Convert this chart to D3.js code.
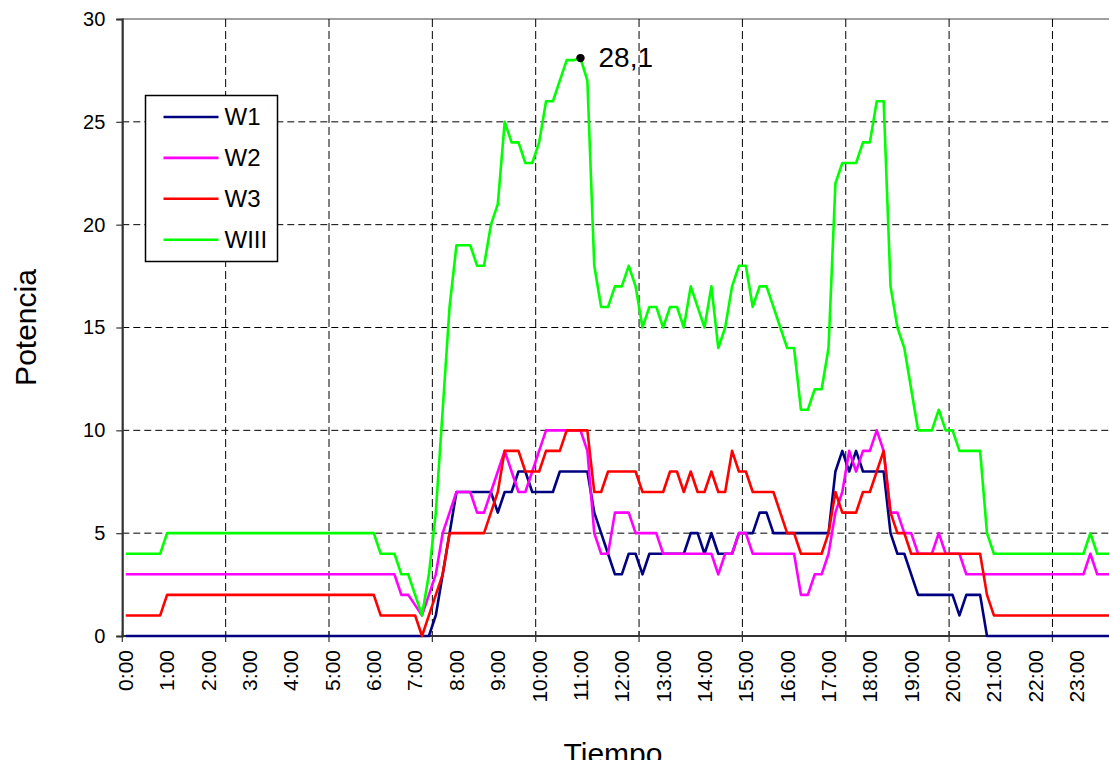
<!DOCTYPE html>
<html>
<head>
<meta charset="utf-8">
<script src="https://cdn.jsdelivr.net/npm/d3@7/dist/d3.min.js"></script>
<style>
  body { margin: 0; background: #fff; overflow: hidden; }
  svg { display: block; font-family: "Liberation Sans", Arial, sans-serif; }
</style>
</head>
<body>
<svg id="chart" width="1109" height="760"></svg>
<script>
// series, one value every 10 minutes (0:00 .. 23:50)
var seriesNames = ["W1", "W2", "W3", "WIII"];
var seriesColors = ["#000080", "#ff00ff", "#ff0000", "#00ff00"];

var hourLabels = ["0:00","1:00","2:00","3:00","4:00","5:00","6:00","7:00","8:00","9:00","10:00","11:00",
                  "12:00","13:00","14:00","15:00","16:00","17:00","18:00","19:00","20:00","21:00","22:00","23:00"];

var yTicks = [0, 5, 10, 15, 20, 25, 30];

var w1 = [0,0,0,0,0,0,0,0,0,0,0,0,0,0,0,0,0,0,0,0,0,0,0,0,0,0,0,0,0,0,0,0,0,0,0,0,0,0,0,0,0,0,0,0,0,
          1,3,5,7,7,7,7,7,7,6,7,7,8,8,7,7,7,7,8,8,8,8,8,
          6,5,4,3,3,4,4,3,4,4,4,4,4,4,5,5,4,5,4,4,4,5,5,
          5,6,6,5,5,5,5,5,5,5,5,5,8,9,8,9,8,8,8,8,
          5,4,4,3,2,2,2,2,2,2,1,2,2,2,
          0,0,0,0,0,0,0,0,0,0,0,0,0,0,0,0,0,0,0];

var w2 = [3,3,3,3,3,3,3,3,3,3,3,3,3,3,3,3,3,3,3,3,3,3,3,3,3,3,3,3,3,3,3,3,3,3,3,3,3,3,3,3,
          2,2,1.5,1,
          2,3,5,6,7,7,7,6,6,7,8,9,8,7,7,8,9,10,10,10,10,10,10,9,
          5,4,4,6,6,6,5,5,5,5,4,4,4,4,4,4,4,4,3,4,4,5,5,
          4,4,4,4,4,4,4,2,2,3,3,4,6,7,9,8,9,9,10,9,
          6,6,5,5,4,4,4,5,4,4,4,3,3,3,
          3,3,3,3,3,3,3,3,3,3,3,3,3,3,3,
          4,3,3,3];

var w3 = [1,1,1,1,1,1,
          2,2,2,2,2,2,2,2,2,2,2,2,2,2,2,2,2,2,2,2,2,2,2,2,2,2,2,2,2,2,2,
          1,1,1,1,1,1,0,
          1,2,3,5,5,5,5,5,5,6,7,9,9,9,8,8,8,9,9,9,10,10,10,10,
          7,7,8,8,8,8,8,7,7,7,7,8,8,7,8,7,7,8,7,7,9,8,8,
          7,7,7,7,6,5,5,4,4,4,4,5,7,6,6,6,7,7,8,9,
          6,5,5,4,4,4,4,4,4,4,4,4,4,4,
          2,1,1,1,1,1,1,1,1,1,1,1,1,1,1,1,1,1,1];

var wIII = [4,4,4,4,4,4,
            5,5,5,5,5,5,5,5,5,5,5,5,5,5,5,5,5,5,5,5,5,5,5,5,5,5,5,5,5,5,5,
            4,4,4,3,3,2,1,
            3,6,11,16,19,19,19,18,18,20,21,25,24,24,23,23,24,26,26,27,28,28,28.1,27,
            18,16,16,17,17,18,17,15,16,16,15,16,16,15,17,16,15,17,14,15,17,18,18,
            16,17,17,16,15,14,14,11,11,12,12,14,22,23,23,23,24,24,26,26,
            17,15,14,12,10,10,10,11,10,10,9,9,9,9,
            5,4,4,4,4,4,4,4,4,4,4,4,4,4,4,5,4,4,4];

var peakLabel = "28,1";

var categories = d3.range(w1.length).map(function (i) {
    var m = i * 10;
    return Math.floor(m / 60) + ":" + d3.format("02")(m % 60);
});

var allSeries = [w1, w2, w3, wIII];

var svg = d3.select("#chart");

var plotLeft = 122.3, catWidth = 6.89, plotTop = 19, plotBottom = 636;

var x = d3.scaleBand()
    .domain(categories)
    .range([plotLeft, plotLeft + catWidth * categories.length])
    .padding(0);

var y = d3.scaleLinear()
    .domain([0, 30])
    .range([plotBottom, plotTop]);

function cx(i) { return x(categories[i]) + x.bandwidth() / 2; }

// plot area frame (grey)
svg.append("rect")
    .attr("x", plotLeft).attr("y", y(30))
    .attr("width", x.range()[1] - plotLeft).attr("height", plotBottom - y(30))
    .attr("fill", "none").attr("stroke", "#808080").attr("stroke-width", 1.5);

// horizontal dashed grid
svg.append("g").selectAll("line")
    .data(yTicks.filter(function (d) { return d > 0 && d < 30; }))
    .enter().append("line")
    .attr("x1", plotLeft).attr("x2", x.range()[1])
    .attr("y1", function (d) { return y(d); }).attr("y2", function (d) { return y(d); })
    .attr("stroke", "#000").attr("stroke-width", 1).attr("stroke-dasharray", "7,4");

// vertical dashed grid, every 15 categories
var vGrid = d3.range(15, categories.length, 15);
svg.append("g").selectAll("line")
    .data(vGrid)
    .enter().append("line")
    .attr("x1", function (d) { return x(categories[d]); })
    .attr("x2", function (d) { return x(categories[d]); })
    .attr("y1", y(30)).attr("y2", plotBottom)
    .attr("stroke", "#000").attr("stroke-width", 1).attr("stroke-dasharray", "8,4");

// y axis
var yAxis = svg.append("g")
    .attr("transform", "translate(" + plotLeft + ",0)")
    .call(d3.axisLeft(y).tickValues(yTicks).tickSize(6).tickPadding(11).tickFormat(d3.format("d")));
yAxis.select(".domain").attr("stroke", "#333").attr("stroke-width", 2);
yAxis.selectAll(".tick line").attr("stroke", "#333").attr("stroke-width", 1.2);
yAxis.selectAll("text").attr("font-size", 20).attr("font-family", "Liberation Sans, Arial, sans-serif").attr("fill", "#000");

// x axis line and cross ticks
svg.append("line")
    .attr("x1", plotLeft).attr("x2", x.range()[1])
    .attr("y1", plotBottom).attr("y2", plotBottom)
    .attr("stroke", "#333").attr("stroke-width", 2);

svg.append("g").selectAll("line")
    .data([0].concat(vGrid))
    .enter().append("line")
    .attr("x1", function (d) { return x(categories[d]); })
    .attr("x2", function (d) { return x(categories[d]); })
    .attr("y1", plotBottom - 5).attr("y2", plotBottom + 6)
    .attr("stroke", "#333").attr("stroke-width", 1.2);

// hour labels, rotated
svg.append("g").selectAll("text")
    .data(hourLabels)
    .enter().append("text")
    .attr("transform", function (d, k) {
        return "translate(" + cx(k * 6) + ",650) rotate(-90)";
    })
    .attr("dy", "0.35em")
    .attr("text-anchor", "end")
    .attr("font-size", 21)
    .text(function (d) { return d; });

// series lines
var line = d3.line()
    .x(function (d, i) { return cx(i); })
    .y(function (d) { return y(d); });

svg.append("g").selectAll("path")
    .data(allSeries)
    .enter().append("path")
    .attr("d", line)
    .attr("fill", "none")
    .attr("stroke", function (d, i) { return seriesColors[i]; })
    .attr("stroke-width", 2.6)
    .attr("stroke-linejoin", "round");

// peak marker on WIII
var peakIndex = d3.maxIndex(wIII);
svg.append("circle")
    .attr("cx", cx(peakIndex)).attr("cy", y(wIII[peakIndex]))
    .attr("r", 4.2).attr("fill", "#000");
svg.append("text")
    .attr("x", cx(peakIndex) + 18).attr("y", y(wIII[peakIndex]) + 9)
    .attr("font-size", 28)
    .text(peakLabel);

// legend
var legend = svg.append("g").attr("transform", "translate(145.5,95.5)");
legend.append("rect")
    .attr("width", 132).attr("height", 166)
    .attr("fill", "#fff").attr("stroke", "#000").attr("stroke-width", 1.5);
var items = legend.selectAll("g.item")
    .data(seriesNames)
    .enter().append("g")
    .attr("class", "item")
    .attr("transform", function (d, i) { return "translate(0," + (21.5 + i * 40.9) + ")"; });
items.append("line")
    .attr("x1", 18).attr("x2", 73)
    .attr("stroke", function (d, i) { return seriesColors[i]; })
    .attr("stroke-width", 2.6);
items.append("text")
    .attr("x", 79).attr("dy", "0.35em")
    .attr("font-size", 24)
    .text(function (d) { return d; });

// axis titles
svg.append("text")
    .attr("transform", "translate(36," + ((plotTop + plotBottom) / 2) + ") rotate(-90)")
    .attr("text-anchor", "middle")
    .attr("font-size", 30)
    .text("Potencia");

svg.append("text")
    .attr("x", 613).attr("y", 764)
    .attr("text-anchor", "middle")
    .attr("font-size", 30)
    .text("Tiempo");
</script>
</body>
</html>
